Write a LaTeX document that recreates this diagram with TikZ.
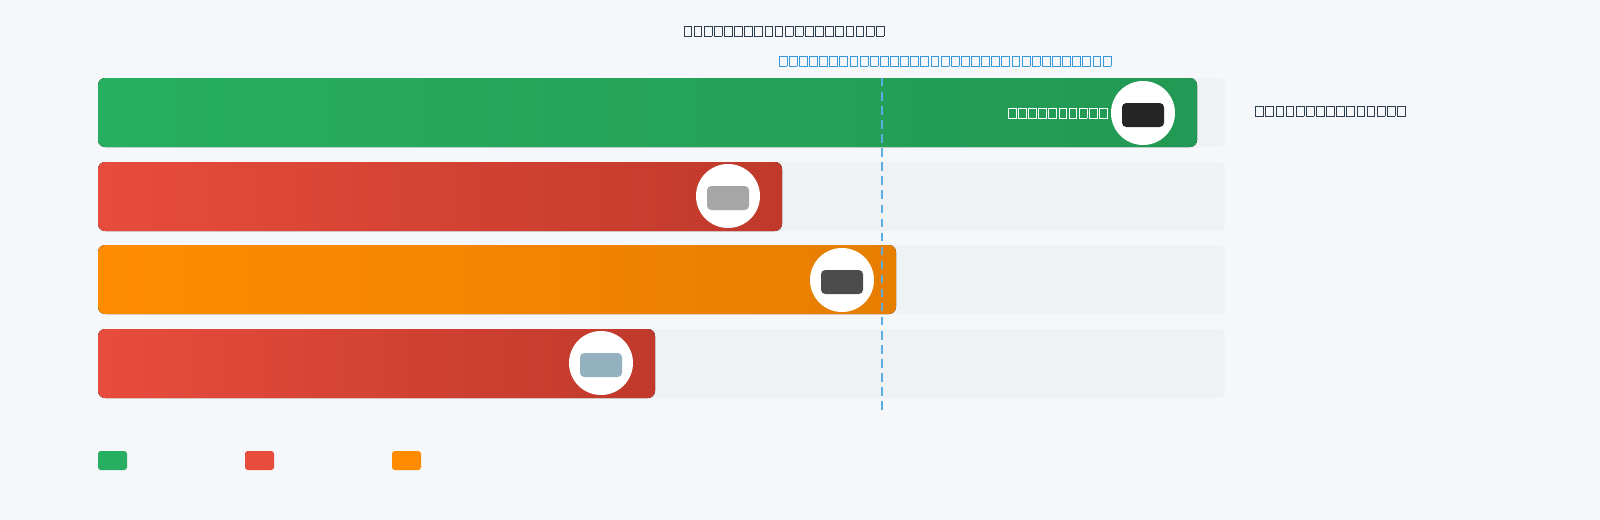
\documentclass[tikz,border=0pt]{standalone}
\usepackage{fontspec}
\setmainfont{DejaVu Sans}
\usetikzlibrary{positioning}
\definecolor{bgc}{HTML}{F5F7FA}
\definecolor{trackc}{HTML}{EEF2F5}
\definecolor{titlec}{HTML}{2C3E50}
\definecolor{refc}{HTML}{3498DB}
\definecolor{dashc}{HTML}{5DADE2}
\definecolor{greenA}{HTML}{27AE60}
\definecolor{greenB}{HTML}{229954}
\definecolor{redA}{HTML}{E74C3C}
\definecolor{redB}{HTML}{C0392B}
\definecolor{orangeA}{HTML}{FF8C00}
\definecolor{orangeB}{HTML}{E67E00}
\newcommand{\tbox}{{\setlength\fboxsep{0pt}\setlength\fboxrule{0.55pt}\fbox{\rule{0pt}{6.6pt}\hspace{5pt}}}\hspace{1.1pt}}
\newcommand{\tofu}[1]{\foreach \k in {1,...,#1}{\tbox}}
\tikzset{
  track/.style={fill=trackc,rounded corners=5pt,draw=none},
  bar/.style 2 args={left color=#1,right color=#2,rounded corners=5pt,draw=none},
  badge/.style={circle,fill=white,minimum size=64*0.025cm,inner sep=0pt},
  label/.style={inner sep=0pt}
}
\begin{document}
\begin{tikzpicture}[x=0.025cm,y=-0.025cm]
  \fill[bgc] (0,0) rectangle (1600,520);
  % titles
  \node[label,text=titlec] (title) at (784,31) {\tofu{20}};
  \node[label,text=refc] (reftxt) at (945,61) {\tofu{33}};
  % tracks and bars
  \foreach \y/\e/\ca/\cb [count=\i] in {78/1197/greenA/greenB,162/782/redA/redB,245/896/orangeA/orangeB,329/655/redA/redB}{
    \fill[track] (98,\y) rectangle (1225,\y+69);
    \fill[bar={\ca}{\cb}] (98,\y) rectangle (\e,\y+69);
  }
  % car badges
  \foreach \x/\y/\c [count=\i] in {1143/113/black!85,728/196/gray!70,842/280/black!70,601/363/cyan!30!gray!80}{
    \node[badge] (car\i) at (\x,\y) {};
    \fill[\c,rounded corners=3pt] (\x-21,\y-10) rectangle (\x+21,\y+14);
  }
  \node[label,text=white,left=2pt of car1] (carlbl) {\tofu{10}};
  \node[label,text=titlec,anchor=west] (side) at (1255,111) {\tofu{15}};
  % reference line
  \coordinate (reftop) at (882,78);
  \coordinate (refbot) at (882,412);
  \draw[dashc,line width=1.2pt,dash pattern=on 6pt off 4pt] (reftop) -- (refbot);
  % legend
  \foreach \x/\c in {98/greenA,245/redA,392/orangeA}
    \fill[\c,rounded corners=2pt] (\x,451) rectangle (\x+29,470);
  \pgfresetboundingbox
  \useasboundingbox (0,0) rectangle (1600,520);
\end{tikzpicture}
\end{document}
